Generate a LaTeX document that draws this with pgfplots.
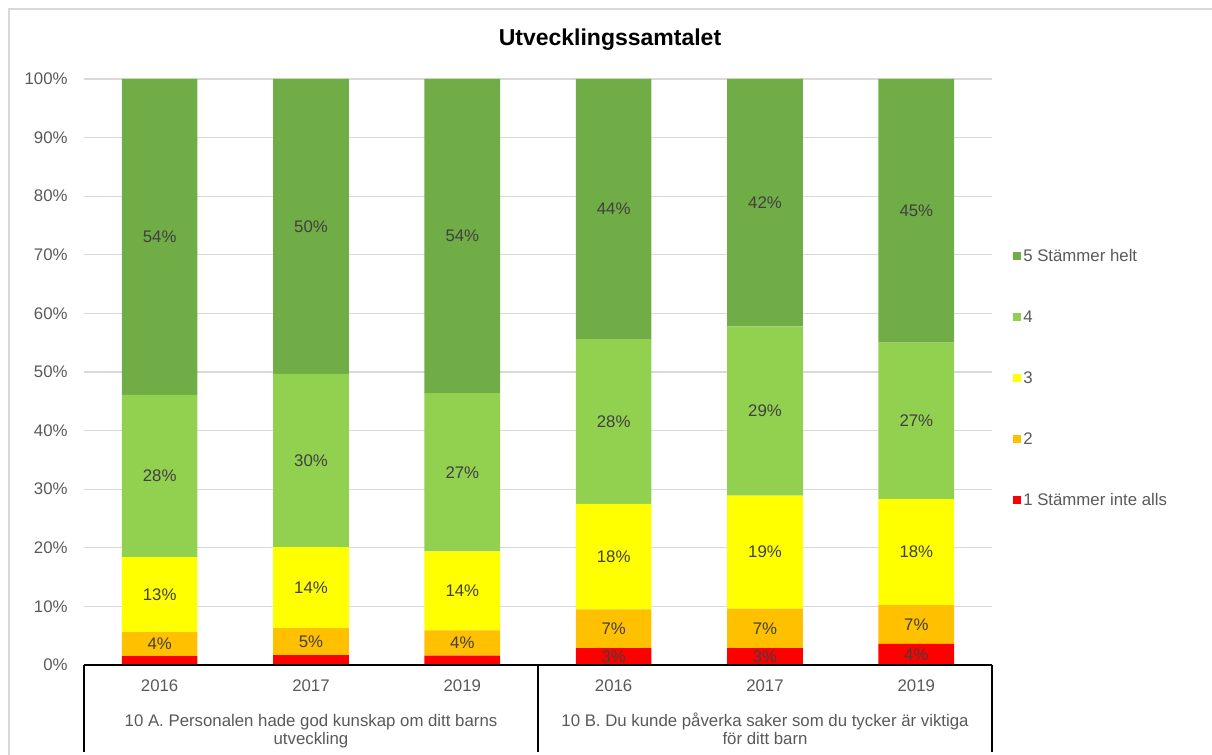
\documentclass[border=0pt]{standalone}
\usepackage{fontspec}
\setmainfont{Liberation Sans}
\usepackage{pgfplots}
\pgfplotsset{compat=1.18}
\pgfkeys{/pgf/number format/assume math mode=true}

\definecolor{c5}{HTML}{70AD47}
\definecolor{c4}{HTML}{92D050}
\definecolor{c3}{HTML}{FFFF00}
\definecolor{c2}{HTML}{FFC000}
\definecolor{c1}{HTML}{FF0000}
\definecolor{txt}{HTML}{595959}
\definecolor{lbl}{HTML}{404040}
\definecolor{gridc}{HTML}{D9D9D9}

% label text: hide the tiny red segments (< 2 %)
\newcommand\seglabel{%
  \pgfmathfloattofixed{\pgfplotspointmeta}\let\segv\pgfmathresult
  \ifdim\segv pt<2pt\relax\else\pgfmathprintnumber[fixed,precision=0,assume math mode=true]{\segv}\%\fi}

\newcommand\lblfont{\fontsize{8.4}{10}\selectfont}

\begin{document}
\begin{tikzpicture}
\begin{scope}[x=0.5pt,y=0.5pt]
  \useasboundingbox (0,0) rectangle (1212,755);
  \draw[gray!30, line width=0.6pt] (9,0) -- (9,746) -- (1212,746);
  \node[font=\bfseries\fontsize{11.5}{13}\selectfont] at (610,715) {Utvecklingssamtalet};
\end{scope}

\begin{axis}[
  at={(42pt,45pt)}, anchor=south west,
  scale only axis, width=454pt, height=293pt,
  ybar stacked, bar width=0.5,
  xmin=-0.5, xmax=5.5, ymin=0, ymax=100,
  xtick={0,...,5},
  xticklabels={2016,2017,2019,2016,2017,2019},
  ytick={0,10,...,100},
  yticklabel={\pgfmathprintnumber{\tick}\%},
  /pgf/number format/assume math mode=true,
  ymajorgrids,
  grid style={gridc, line width=0.6pt},
  axis line style={draw=none},
  major tick length=0pt,
  tick label style={font=\lblfont, text=txt},
  yticklabel style={anchor=east, inner sep=0pt, xshift=-8pt},
  xticklabel style={anchor=base, inner sep=0pt, yshift=-13.5pt},
  nodes near coords=\seglabel,
  every node near coord/.append style={anchor=center, font=\lblfont, text=lbl, inner sep=0pt},
  reverse legend,
  legend cell align=left,
  legend style={at={(1.023,0.713)}, anchor=north west, draw=none, fill=none,
    inner sep=0pt, row sep=22.5pt, font=\lblfont, text=txt,
    nodes={inner sep=1pt, text height=6pt, text depth=0pt}},
  legend image code/.code={\fill[#1] (0pt,-2pt) rectangle (4pt,2pt);},
]
\addplot[fill=c1, draw=none] coordinates {(0,1.5) (1,1.7) (2,1.6) (3,2.9) (4,2.9) (5,3.6)};
\addlegendentry{1 Stämmer inte alls}
\addplot[fill=c2, draw=none] coordinates {(0,4.1) (1,4.6) (2,4.3) (3,6.6) (4,6.7) (5,6.6)};
\addlegendentry{2}
\addplot[fill=c3, draw=none] coordinates {(0,12.8) (1,13.8) (2,13.5) (3,18.0) (4,19.3) (5,18.1)};
\addlegendentry{3}
\addplot[fill=c4, draw=none] coordinates {(0,27.7) (1,29.6) (2,27.0) (3,28.1) (4,28.9) (5,26.7)};
\addlegendentry{4}
\addplot[fill=c5, draw=none] coordinates {(0,53.9) (1,50.3) (2,53.6) (3,44.4) (4,42.2) (5,45.0)};
\addlegendentry{5 Stämmer helt}
\end{axis}

\begin{scope}[x=0.5pt,y=0.5pt]
  \draw[black, line width=0.8pt] (84,90) -- (992,90);
  \draw[black, line width=0.6pt] (84,90) -- (84,3) (538,90) -- (538,3) (992,90) -- (992,3);
  \begin{scope}[every node/.style={anchor=base, inner sep=0pt, font=\lblfont, text=txt}]
    \node at (311,28) {10 A. Personalen hade god kunskap om ditt barns};
    \node at (311,10) {utveckling};
    \node at (765,28) {10 B. Du kunde påverka saker som du tycker är viktiga};
    \node at (765,10) {för ditt barn};
  \end{scope}
\end{scope}
\end{tikzpicture}
\end{document}
